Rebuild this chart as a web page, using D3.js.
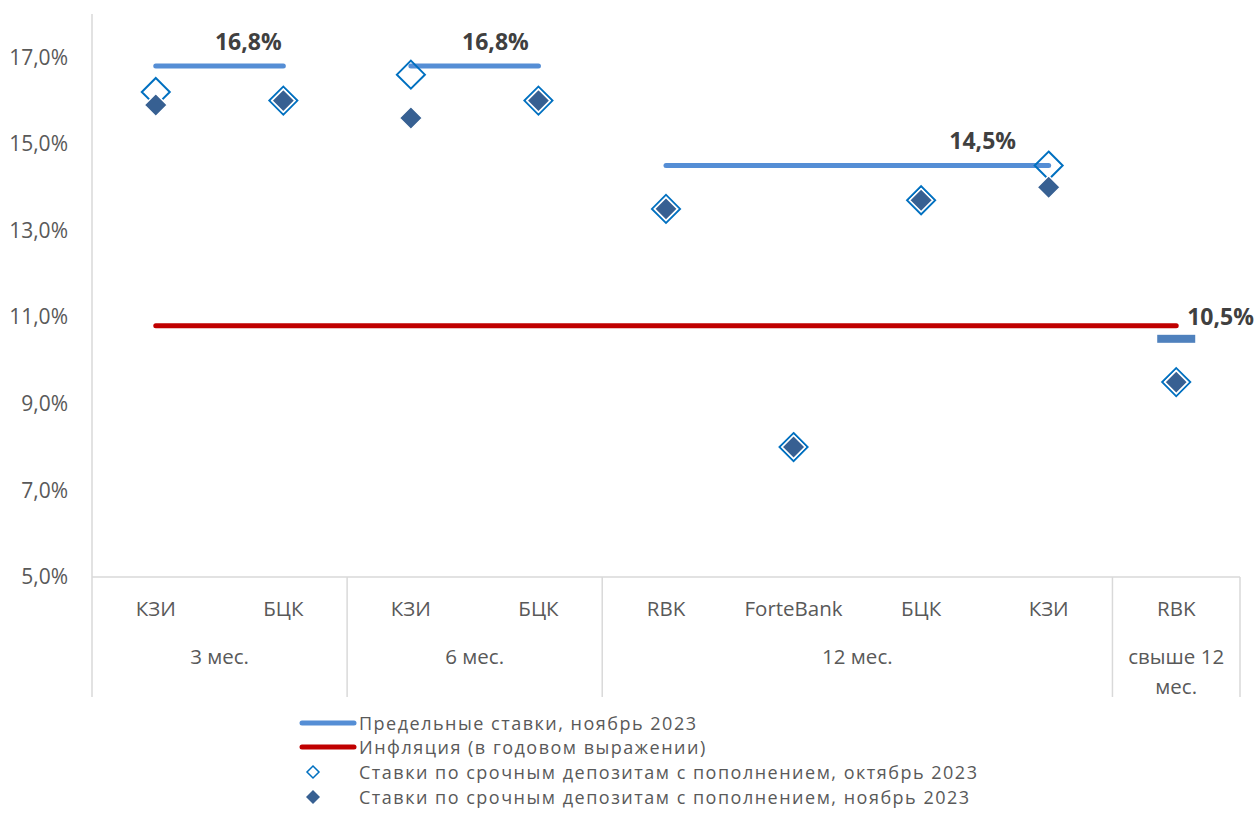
<!DOCTYPE html>
<html>
<head>
<meta charset="utf-8">
<script src="https://cdn.jsdelivr.net/npm/d3@7"></script>
<style>
  body { margin: 0; background: #fff; }
  svg { font-family: "Open Sans", sans-serif; }
</style>
</head>
<body>
<div id="chart"></div>
<script>
var width = 1256;
var height = 814;

// data
var groups = ["3 мес.", "6 мес.", "12 мес.", "свыше 12 мес."];
var banks = ["КЗИ", "БЦК", "КЗИ", "БЦК", "RBK", "ForteBank", "БЦК", "КЗИ", "RBK"];
var groupOf = [0, 0, 1, 1, 2, 2, 2, 2, 3];
var octRates = [16.2, 16.0, 16.6, 16.0, 13.5, 8.0, 13.7, 14.5, 9.5];
var novRates = [15.9, 16.0, 15.6, 16.0, 13.5, 8.0, 13.7, 14.0, 9.5];
var limitRates = [16.8, 16.8, 16.8, 16.8, 14.5, 14.5, 14.5, 14.5, 10.5];
var inflation = [10.8, 10.8, 10.8, 10.8, 10.8, 10.8, 10.8, 10.8, 10.8];
var yTicks = [5, 7, 9, 11, 13, 15, 17];
var legendNames = [
  "Предельные ставки, ноябрь 2023",
  "Инфляция (в годовом выражении)",
  "Ставки по срочным депозитам с пополнением, октябрь 2023",
  "Ставки по срочным депозитам с пополнением, ноябрь 2023"
];

// where the limit label sits relative to the last point of its group
var labelShift = [[-35, -16], [-43, -16], [-66, -17], [11, -14]];

var limitColor = "#558ED5";
var limitMarker = "#4F81BD";
var inflColor = "#C00000";
var octColor = "#0070C0";
var novColor = "#376092";

var margin = {left: 92, right: 16, top: 14, bottom: 237};

var idx = d3.range(banks.length);
var x = d3.scaleBand().domain(idx).range([margin.left, width - margin.right]).padding(0);
var y = d3.scaleLinear().domain([5, 18]).range([height - margin.bottom, margin.top]);
var cx = i => x(i) + x.bandwidth() / 2;

var svg = d3.select("#chart").append("svg")
    .attr("width", width)
    .attr("height", height);

// axes
var axisBottom = y(5);
var axisEnd = axisBottom + 120;

svg.append("line")
    .attr("x1", margin.left).attr("x2", margin.left)
    .attr("y1", margin.top).attr("y2", axisEnd)
    .attr("stroke", "#D9D9D9").attr("stroke-width", 1.5);

svg.append("line")
    .attr("x1", margin.left).attr("x2", width - margin.right)
    .attr("y1", axisBottom).attr("y2", axisBottom)
    .attr("stroke", "#D9D9D9").attr("stroke-width", 1.5);

var yAxis = svg.append("g")
    .attr("transform", `translate(${margin.left},0)`)
    .call(d3.axisLeft(y).tickValues(yTicks).tickSize(0).tickPadding(24)
      .tickFormat(d => d3.format(".1f")(d).replace(".", ",") + "%"));
yAxis.select(".domain").remove();
yAxis.selectAll("text")
    .attr("fill", "#595959")
    .style("font-size", "21px")
    .style("font-family", "'Open Sans', sans-serif");

// group separators
var groupStarts = idx.filter(i => i == 0 || groupOf[i] != groupOf[i - 1]);
var seps = groupStarts.slice(1).map(i => x(i)).concat([width - margin.right]);
svg.append("g").selectAll("line")
  .data(seps)
  .join("line")
    .attr("x1", d => d).attr("x2", d => d)
    .attr("y1", axisBottom).attr("y2", axisEnd)
    .attr("stroke", "#D9D9D9").attr("stroke-width", 1.5);

// bank labels
svg.append("g").selectAll("text")
  .data(idx)
  .join("text")
    .attr("x", d => cx(d))
    .attr("y", axisBottom + 39)
    .attr("text-anchor", "middle")
    .attr("fill", "#595959")
    .style("font-size", "20.5px")
    .text(d => banks[d]);

// group labels
groups.forEach((g, gi) => {
  var members = idx.filter(i => groupOf[i] == gi);
  var gx = (x(members[0]) + x(members[members.length - 1]) + x.bandwidth()) / 2;
  var t = svg.append("text")
      .attr("x", gx)
      .attr("y", axisBottom + 87)
      .attr("text-anchor", "middle")
      .attr("fill", "#595959")
      .style("font-size", "20.5px");
  if (members.length == 1) {
    var words = g.split(" ");
    t.append("tspan").attr("x", gx).text(words.slice(0, 2).join(" "));
    t.append("tspan").attr("x", gx).attr("dy", 30).text(words.slice(2).join(" "));
  } else {
    t.text(g);
  }
});

// inflation line
svg.append("path")
    .datum(idx)
    .attr("fill", "none")
    .attr("stroke", inflColor)
    .attr("stroke-width", 5)
    .attr("stroke-linecap", "round")
    .attr("d", d3.line().x(d => cx(d)).y(d => y(inflation[d])));

// limit rate lines per group
var lineGen = d3.line().x(d => cx(d)).y(d => y(limitRates[d]));
groups.forEach((g, gi) => {
  var members = idx.filter(i => groupOf[i] == gi);
  var last = members[members.length - 1];
  if (members.length > 1) {
    svg.append("path")
        .datum(members)
        .attr("fill", "none")
        .attr("stroke", limitColor)
        .attr("stroke-width", 5)
        .attr("stroke-linecap", "round")
        .attr("d", lineGen);
  } else {
    svg.append("rect")
        .attr("x", cx(last) - 19)
        .attr("y", y(limitRates[last]) - 4)
        .attr("width", 38)
        .attr("height", 8)
        .attr("fill", limitMarker);
  }
  var sh = labelShift[gi];
  svg.append("text")
      .attr("x", cx(last) + sh[0])
      .attr("y", y(limitRates[last]) + sh[1])
      .attr("text-anchor", members.length > 1 ? "middle" : "start")
      .attr("fill", "#404040")
      .style("font-size", "23px")
      .style("font-weight", "bold")
      .text(d3.format(".1f")(limitRates[last]).replace(".", ",") + "%");
});

// diamonds
function diamond(r) {
  return `M0,${-r}L${r},0L0,${r}L${-r},0Z`;
}

svg.append("g").selectAll("path")
  .data(idx)
  .join("path")
    .attr("transform", d => `translate(${cx(d)},${y(octRates[d])})`)
    .attr("d", diamond(14))
    .attr("fill", "none")
    .attr("stroke", octColor)
    .attr("stroke-width", 2);

svg.append("g").selectAll("path")
  .data(idx)
  .join("path")
    .attr("transform", d => `translate(${cx(d)},${y(novRates[d])})`)
    .attr("d", diamond(11.5))
    .attr("fill", novColor)
    .attr("stroke", "white")
    .attr("stroke-width", 1.5);

// legend
var legend = svg.append("g");
var legY = [723, 747, 772, 797];
legendNames.forEach((name, li) => {
  var row = legend.append("g").attr("transform", `translate(0,${legY[li]})`);
  if (li < 2) {
    row.append("line")
        .attr("x1", 302).attr("x2", 354)
        .attr("stroke", li == 0 ? limitColor : inflColor)
        .attr("stroke-width", 5)
        .attr("stroke-linecap", "round");
  } else if (li == 2) {
    row.append("path")
        .attr("transform", "translate(313,0)")
        .attr("d", diamond(6))
        .attr("fill", "none")
        .attr("stroke", octColor)
        .attr("stroke-width", 1.5);
  } else {
    row.append("path")
        .attr("transform", "translate(313,0)")
        .attr("d", diamond(7))
        .attr("fill", novColor);
  }
  row.append("text")
      .attr("x", 359)
      .attr("y", 6.5)
      .attr("fill", "#595959")
      .style("font-size", "18px")
      .style("letter-spacing", "1.5px")
      .text(name);
});
</script>
</body>
</html>
